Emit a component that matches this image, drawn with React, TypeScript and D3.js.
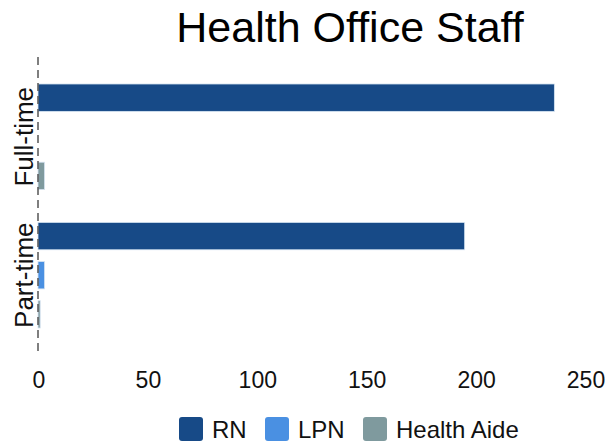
import { useEffect, useRef } from 'react';
import * as d3 from 'd3';

const groups = ['Full-time', 'Part-time'];
const seriesNames = ['RN', 'LPN', 'Health Aide'];
const fullTimeValues = [236, 0, 3];
const partTimeValues = [195, 3, 1];
const xTicks = [0, 50, 100, 150, 200, 250];
const seriesColors = ['#174a87', '#4a90e2', '#7f9a9e'];

export default function App() {
  const svgRef = useRef<SVGSVGElement>(null);
  const width = 613;
  const height = 444;

  useEffect(() => {
    if (!svgRef.current) return;
    const svg = d3.select(svgRef.current);
    svg.selectAll('*').remove();

    const font = 'Liberation Sans, Arial, sans-serif';
    const margin = { top: 57, right: 28, bottom: 89, left: 38 };
    const innerW = width - margin.left - margin.right;
    const innerH = height - margin.top - margin.bottom;

    const x = d3.scaleLinear().domain([0, 250]).range([0, innerW]);
    const y0 = d3.scaleBand<string>().domain(groups).range([0, innerH]).paddingInner(0.237).paddingOuter(0.195);
    const y1 = d3.scaleBand<string>().domain(seriesNames).range([0, y0.bandwidth()]).paddingInner(0.3).paddingOuter(0);
    const color = d3.scaleOrdinal<string, string>().domain(seriesNames).range(seriesColors);

    const rows = groups.map((g, i) => ({
      group: g,
      values: (i === 0 ? fullTimeValues : partTimeValues).map((v, j) => ({ name: seriesNames[j], value: v })),
    }));

    svg.append('text')
      .attr('x', 350)
      .attr('y', 42)
      .attr('text-anchor', 'middle')
      .attr('font-family', font)
      .attr('font-size', 43)
      .attr('fill', '#000')
      .text('Health Office Staff');

    const g = svg.append('g').attr('transform', `translate(${margin.left},${margin.top})`);

    // bars
    const grp = g.selectAll('g.grp')
      .data(rows)
      .enter()
      .append('g')
      .attr('class', 'grp')
      .attr('transform', (d) => `translate(0,${y0(d.group)})`);

    grp.selectAll('rect')
      .data((d) => d.values.filter((v) => v.value > 0))
      .enter()
      .append('rect')
      .attr('x', x(0))
      .attr('y', (d) => y1(d.name) as number)
      .attr('width', (d) => x(d.value) - x(0))
      .attr('height', y1.bandwidth())
      .attr('fill', (d) => color(d.name))
      .attr('stroke', '#d6e4f2')
      .attr('stroke-width', 0.8);

    // dashed zero line
    g.append('line')
      .attr('x1', x(0))
      .attr('x2', x(0))
      .attr('y1', 0)
      .attr('y2', innerH)
      .attr('stroke', '#555')
      .attr('stroke-width', 1.5)
      .attr('stroke-dasharray', '8,5');

    // x tick labels
    g.selectAll('text.xt')
      .data(xTicks)
      .enter()
      .append('text')
      .attr('class', 'xt')
      .attr('x', (d) => x(d) + 1)
      .attr('y', innerH + 33)
      .attr('text-anchor', 'middle')
      .attr('font-family', font)
      .attr('font-size', 23)
      .attr('fill', '#111')
      .text((d) => d);

    // y group labels
    g.selectAll('text.yl')
      .data(groups)
      .enter()
      .append('text')
      .attr('class', 'yl')
      .attr('transform', (d) => `translate(-5,${(y0(d) as number) + y0.bandwidth() / 2}) rotate(-90)`)
      .attr('text-anchor', 'middle')
      .attr('font-family', font)
      .attr('font-size', 26)
      .attr('fill', '#111')
      .text((d) => d);

    // legend
    const legendX = [179, 265, 363];
    const lg = svg.append('g').attr('transform', 'translate(0,417)');
    seriesNames.forEach((name, i) => {
      lg.append('rect')
        .attr('x', legendX[i])
        .attr('y', 0)
        .attr('width', 24)
        .attr('height', 24)
        .attr('rx', 3)
        .attr('fill', color(name));
      lg.append('text')
        .attr('x', legendX[i] + 33)
        .attr('y', 21)
        .attr('font-family', font)
        .attr('font-size', 24)
        .attr('fill', '#111')
        .text(name);
    });
  }, []);

  return (
    <svg
      ref={svgRef}
      width={width}
      height={height}
      style={{ position: 'absolute', left: 0, top: 0, background: '#fff' }}
    />
  );
}
